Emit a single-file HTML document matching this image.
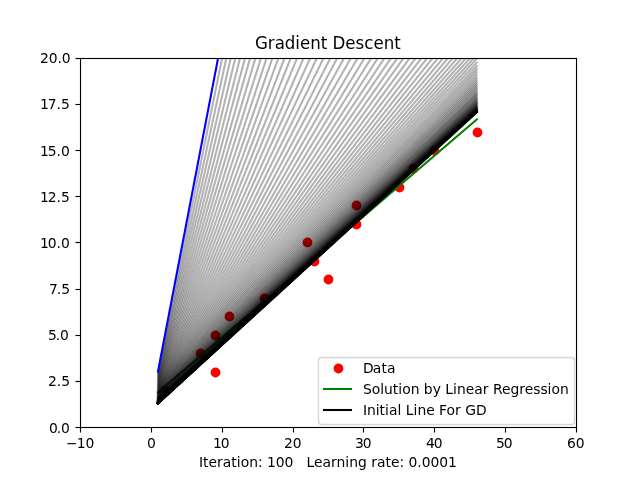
<!DOCTYPE html>
<html><head><meta charset="utf-8"><title>Gradient Descent</title>
<style>html,body{margin:0;padding:0;background:#fff;width:640px;height:480px;overflow:hidden}svg{display:block;will-change:transform}text{white-space:pre}</style>
</head><body>
<svg width="640" height="480" viewBox="0 0 640 480" style="font-family:'DejaVu Sans','Liberation Sans',sans-serif">
<defs><clipPath id="c"><rect x="80" y="58" width="496" height="369"/></clipPath></defs>
<rect width="640" height="480" fill="#fff"/>
<g fill="#000"><rect x="79.945" y="427.5" width="1.111" height="5"/><rect x="150.945" y="427.5" width="1.111" height="5"/><rect x="221.945" y="427.5" width="1.111" height="5"/><rect x="292.945" y="427.5" width="1.111" height="5"/><rect x="362.945" y="427.5" width="1.111" height="5"/><rect x="433.945" y="427.5" width="1.111" height="5"/><rect x="504.945" y="427.5" width="1.111" height="5"/><rect x="575.944" y="427.5" width="1.111" height="5"/><rect x="75.5" y="426.945" width="5" height="1.111"/><rect x="75.5" y="380.945" width="5" height="1.111"/><rect x="75.5" y="334.945" width="5" height="1.111"/><rect x="75.5" y="288.945" width="5" height="1.111"/><rect x="75.5" y="241.945" width="5" height="1.111"/><rect x="75.5" y="195.945" width="5" height="1.111"/><rect x="75.5" y="149.945" width="5" height="1.111"/><rect x="75.5" y="103.945" width="5" height="1.111"/><rect x="75.5" y="57.944" width="5" height="1.111"/></g>
<g><text x="66 76.625 85.5" y="448.047" font-size="13.889px">−10</text><text x="147" y="448.047" font-size="13.889px">0</text><text x="212.875 220.75" y="448.047" font-size="13.889px">10</text><text x="284 292.75" y="448.047" font-size="13.889px">20</text><text x="355 362.75" y="448.047" font-size="13.889px">30</text><text x="426 433.75" y="448.047" font-size="13.889px">40</text><text x="496 503.75" y="448.047" font-size="13.889px">50</text><text x="566.875 575.75" y="448.047" font-size="13.889px">60</text><text x="48.875 56.625 61" y="433.075" font-size="13.889px">0.0</text><text x="48 56.75 61.125" y="386" font-size="13.889px">2.5</text><text x="47.875 55.625 60" y="340.05" font-size="13.889px">5.0</text><text x="49 56.75 61.125" y="294.1" font-size="13.889px">7.5</text><text x="39.875 47.75 56.5 60.875" y="248.025" font-size="13.889px">10.0</text><text x="39.875 47.75 56.5 60.875" y="202.075" font-size="13.889px">12.5</text><text x="39.875 47.75 56.5 60.875" y="156" font-size="13.889px">15.0</text><text x="39.875 47.75 56.5 60.875" y="109.05" font-size="13.889px">17.5</text><text x="39.875 48.625 57.375 61.75" y="63.1" font-size="13.889px">20.0</text></g>
<g fill="#f00" stroke="#f00" stroke-width="1.389" clip-path="url(#c)"><circle cx="165.5" cy="390.5" r="4.2"/><circle cx="200.5" cy="353.5" r="4.2"/><circle cx="215.5" cy="372.5" r="4.2"/><circle cx="215.5" cy="335.5" r="4.2"/><circle cx="229.5" cy="316.5" r="4.2"/><circle cx="264.5" cy="298.5" r="4.2"/><circle cx="307.5" cy="242.5" r="4.2"/><circle cx="314.5" cy="261.5" r="4.2"/><circle cx="328.5" cy="279.5" r="4.2"/><circle cx="356.5" cy="205.5" r="4.2"/><circle cx="356.5" cy="224.5" r="4.2"/><circle cx="399.5" cy="187.5" r="4.2"/><circle cx="413.5" cy="168.5" r="4.2"/><circle cx="434.5" cy="150.5" r="4.2"/><circle cx="477.5" cy="132.5" r="4.2"/></g>
<g fill="none" stroke-width="2.083" stroke-linecap="square" clip-path="url(#c)">
<path d="M157.943 392.207L476.8 119.451" stroke="#008000"/>
<path d="M157.943 403.238L476.8 112.183" stroke="#000"/>
<path d="M157.943 373.911L476.8 -1195.601" stroke="#000" stroke-opacity="0.3"/>
<path d="M157.943 375.915L476.8 -1106.3" stroke="#000" stroke-opacity="0.3"/>
<path d="M157.943 377.783L476.8 -1023.092" stroke="#000" stroke-opacity="0.3"/>
<path d="M157.943 379.523L476.8 -945.56" stroke="#000" stroke-opacity="0.3"/>
<path d="M157.943 381.144L476.8 -873.318" stroke="#000" stroke-opacity="0.3"/>
<path d="M157.943 382.655L476.8 -806.004" stroke="#000" stroke-opacity="0.3"/>
<path d="M157.943 384.062L476.8 -743.282" stroke="#000" stroke-opacity="0.3"/>
<path d="M157.943 385.374L476.8 -684.84" stroke="#000" stroke-opacity="0.3"/>
<path d="M157.943 386.596L476.8 -630.384" stroke="#000" stroke-opacity="0.3"/>
<path d="M157.943 387.734L476.8 -579.644" stroke="#000" stroke-opacity="0.3"/>
<path d="M157.943 388.795L476.8 -532.365" stroke="#000" stroke-opacity="0.3"/>
<path d="M157.943 389.784L476.8 -488.311" stroke="#000" stroke-opacity="0.3"/>
<path d="M157.943 390.705L476.8 -447.263" stroke="#000" stroke-opacity="0.3"/>
<path d="M157.943 391.563L476.8 -409.016" stroke="#000" stroke-opacity="0.3"/>
<path d="M157.943 392.363L476.8 -373.377" stroke="#000" stroke-opacity="0.3"/>
<path d="M157.943 393.108L476.8 -340.17" stroke="#000" stroke-opacity="0.3"/>
<path d="M157.943 393.802L476.8 -309.229" stroke="#000" stroke-opacity="0.3"/>
<path d="M157.943 394.449L476.8 -280.398" stroke="#000" stroke-opacity="0.3"/>
<path d="M157.943 395.052L476.8 -253.534" stroke="#000" stroke-opacity="0.3"/>
<path d="M157.943 395.613L476.8 -228.503" stroke="#000" stroke-opacity="0.3"/>
<path d="M157.943 396.137L476.8 -205.18" stroke="#000" stroke-opacity="0.3"/>
<path d="M157.943 396.624L476.8 -183.447" stroke="#000" stroke-opacity="0.3"/>
<path d="M157.943 397.078L476.8 -163.198" stroke="#000" stroke-opacity="0.3"/>
<path d="M157.943 397.502L476.8 -144.33" stroke="#000" stroke-opacity="0.3"/>
<path d="M157.943 397.896L476.8 -126.749" stroke="#000" stroke-opacity="0.3"/>
<path d="M157.943 398.263L476.8 -110.367" stroke="#000" stroke-opacity="0.3"/>
<path d="M157.943 398.606L476.8 -95.103" stroke="#000" stroke-opacity="0.3"/>
<path d="M157.943 398.925L476.8 -80.88" stroke="#000" stroke-opacity="0.3"/>
<path d="M157.943 399.222L476.8 -67.628" stroke="#000" stroke-opacity="0.3"/>
<path d="M157.943 399.499L476.8 -55.28" stroke="#000" stroke-opacity="0.3"/>
<path d="M157.943 399.757L476.8 -43.774" stroke="#000" stroke-opacity="0.3"/>
<path d="M157.943 399.997L476.8 -33.053" stroke="#000" stroke-opacity="0.3"/>
<path d="M157.943 400.221L476.8 -23.063" stroke="#000" stroke-opacity="0.3"/>
<path d="M157.943 400.43L476.8 -13.755" stroke="#000" stroke-opacity="0.3"/>
<path d="M157.943 400.624L476.8 -5.082" stroke="#000" stroke-opacity="0.3"/>
<path d="M157.943 400.805L476.8 2.999" stroke="#000" stroke-opacity="0.3"/>
<path d="M157.943 400.974L476.8 10.529" stroke="#000" stroke-opacity="0.3"/>
<path d="M157.943 401.131L476.8 17.545" stroke="#000" stroke-opacity="0.3"/>
<path d="M157.943 401.278L476.8 24.083" stroke="#000" stroke-opacity="0.3"/>
<path d="M157.943 401.414L476.8 30.175" stroke="#000" stroke-opacity="0.3"/>
<path d="M157.943 401.541L476.8 35.851" stroke="#000" stroke-opacity="0.3"/>
<path d="M157.943 401.66L476.8 41.14" stroke="#000" stroke-opacity="0.3"/>
<path d="M157.943 401.77L476.8 46.068" stroke="#000" stroke-opacity="0.3"/>
<path d="M157.943 401.873L476.8 50.66" stroke="#000" stroke-opacity="0.3"/>
<path d="M157.943 401.969L476.8 54.938" stroke="#000" stroke-opacity="0.3"/>
<path d="M157.943 402.058L476.8 58.925" stroke="#000" stroke-opacity="0.3"/>
<path d="M157.943 402.141L476.8 62.64" stroke="#000" stroke-opacity="0.3"/>
<path d="M157.943 402.218L476.8 66.101" stroke="#000" stroke-opacity="0.3"/>
<path d="M157.943 402.291L476.8 69.326" stroke="#000" stroke-opacity="0.3"/>
<path d="M157.943 402.358L476.8 72.332" stroke="#000" stroke-opacity="0.3"/>
<path d="M157.943 402.42L476.8 75.132" stroke="#000" stroke-opacity="0.3"/>
<path d="M157.943 402.479L476.8 77.741" stroke="#000" stroke-opacity="0.3"/>
<path d="M157.943 402.533L476.8 80.172" stroke="#000" stroke-opacity="0.3"/>
<path d="M157.943 402.583L476.8 82.437" stroke="#000" stroke-opacity="0.3"/>
<path d="M157.943 402.631L476.8 84.548" stroke="#000" stroke-opacity="0.3"/>
<path d="M157.943 402.674L476.8 86.515" stroke="#000" stroke-opacity="0.3"/>
<path d="M157.943 402.715L476.8 88.347" stroke="#000" stroke-opacity="0.3"/>
<path d="M157.943 402.753L476.8 90.055" stroke="#000" stroke-opacity="0.3"/>
<path d="M157.943 402.789L476.8 91.646" stroke="#000" stroke-opacity="0.3"/>
<path d="M157.943 402.822L476.8 93.129" stroke="#000" stroke-opacity="0.3"/>
<path d="M157.943 402.853L476.8 94.51" stroke="#000" stroke-opacity="0.3"/>
<path d="M157.943 402.881L476.8 95.797" stroke="#000" stroke-opacity="0.3"/>
<path d="M157.943 402.908L476.8 96.997" stroke="#000" stroke-opacity="0.3"/>
<path d="M157.943 402.933L476.8 98.114" stroke="#000" stroke-opacity="0.3"/>
<path d="M157.943 402.956L476.8 99.156" stroke="#000" stroke-opacity="0.3"/>
<path d="M157.943 402.977L476.8 100.126" stroke="#000" stroke-opacity="0.3"/>
<path d="M157.943 402.997L476.8 101.03" stroke="#000" stroke-opacity="0.3"/>
<path d="M157.943 403.016L476.8 101.873" stroke="#000" stroke-opacity="0.3"/>
<path d="M157.943 403.033L476.8 102.658" stroke="#000" stroke-opacity="0.3"/>
<path d="M157.943 403.049L476.8 103.389" stroke="#000" stroke-opacity="0.3"/>
<path d="M157.943 403.064L476.8 104.071" stroke="#000" stroke-opacity="0.3"/>
<path d="M157.943 403.078L476.8 104.706" stroke="#000" stroke-opacity="0.3"/>
<path d="M157.943 403.091L476.8 105.298" stroke="#000" stroke-opacity="0.3"/>
<path d="M157.943 403.103L476.8 105.849" stroke="#000" stroke-opacity="0.3"/>
<path d="M157.943 403.115L476.8 106.363" stroke="#000" stroke-opacity="0.3"/>
<path d="M157.943 403.125L476.8 106.841" stroke="#000" stroke-opacity="0.3"/>
<path d="M157.943 403.135L476.8 107.288" stroke="#000" stroke-opacity="0.3"/>
<path d="M157.943 403.144L476.8 107.703" stroke="#000" stroke-opacity="0.3"/>
<path d="M157.943 403.152L476.8 108.091" stroke="#000" stroke-opacity="0.3"/>
<path d="M157.943 403.16L476.8 108.452" stroke="#000" stroke-opacity="0.3"/>
<path d="M157.943 403.168L476.8 108.788" stroke="#000" stroke-opacity="0.3"/>
<path d="M157.943 403.174L476.8 109.101" stroke="#000" stroke-opacity="0.3"/>
<path d="M157.943 403.181L476.8 109.393" stroke="#000" stroke-opacity="0.3"/>
<path d="M157.943 403.186L476.8 109.665" stroke="#000" stroke-opacity="0.3"/>
<path d="M157.943 403.192L476.8 109.919" stroke="#000" stroke-opacity="0.3"/>
<path d="M157.943 403.197L476.8 110.155" stroke="#000" stroke-opacity="0.3"/>
<path d="M157.943 403.201L476.8 110.375" stroke="#000" stroke-opacity="0.3"/>
<path d="M157.943 403.206L476.8 110.58" stroke="#000" stroke-opacity="0.3"/>
<path d="M157.943 403.21L476.8 110.771" stroke="#000" stroke-opacity="0.3"/>
<path d="M157.943 403.214L476.8 110.95" stroke="#000" stroke-opacity="0.3"/>
<path d="M157.943 403.217L476.8 111.116" stroke="#000" stroke-opacity="0.3"/>
<path d="M157.943 403.22L476.8 111.27" stroke="#000" stroke-opacity="0.3"/>
<path d="M157.943 403.223L476.8 111.414" stroke="#000" stroke-opacity="0.3"/>
<path d="M157.943 403.226L476.8 111.549" stroke="#000" stroke-opacity="0.3"/>
<path d="M157.943 403.228L476.8 111.674" stroke="#000" stroke-opacity="0.3"/>
<path d="M157.943 403.231L476.8 111.79" stroke="#000" stroke-opacity="0.3"/>
<path d="M157.943 403.233L476.8 111.899" stroke="#000" stroke-opacity="0.3"/>
<path d="M157.943 403.235L476.8 112" stroke="#000" stroke-opacity="0.3"/>
<path d="M157.943 403.237L476.8 112.095" stroke="#000" stroke-opacity="0.3"/>
<path d="M157.943 403.238L476.8 112.183" stroke="#000" stroke-opacity="0.3"/>
</g>
<path d="M157.943 371.76L476.8 -1291.44" stroke="#00f" stroke-width="2.083" stroke-linecap="square" fill="none" clip-path="url(#c)"/>
<g fill="#000"><rect x="79.945" y="57.944" width="1.111" height="370.111"/><rect x="575.944" y="57.944" width="1.111" height="370.111"/><rect x="79.945" y="57.944" width="497.111" height="1.111"/><rect x="79.945" y="426.945" width="497.111" height="1.111"/></g>
<text x="255 267.875 274.75 284.875 295.375 300 310.25 320.75 327.25 332.5 345.375 355.625 364.375 373.5 383.75 394.25" y="49.017" font-size="16.667px" text-anchor="start" transform="translate(0 49.017) scale(1 1.08) translate(0 -49.017)">Gradient Descent</text>
<text x="198.875 202.875 208.375 216.875 222.625 231.25 236.75 240.625 249.125 257.875 262.5 266.875 275.75 284.5 293.25 297.625 302 306.375 313.875 322.375 331 336.5 345.25 349.125 357.875 366.75 371.125 376.875 385.5 391 399.5 404.125 408.5 417.25 421.625 430.375 439.125 447.875" y="467.103" font-size="13.889px" style="white-space:pre">Iteration: 100   Learning rate: 0.0001</text>
<rect x="318.5" y="357.5" width="256" height="67" rx="3" fill="#fff" fill-opacity="0.8" stroke="#ccc" stroke-opacity="0.8" stroke-width="1.389"/>
<circle cx="338.5" cy="368.5" r="4.2" fill="#f00" stroke="#f00" stroke-width="1.389"/>
<path d="M324 389H351" stroke="#008000" stroke-width="2.083" stroke-linecap="square"/>
<path d="M324 410H351" stroke="#000" stroke-width="2.083" stroke-linecap="square"/>
<text x="363 372.75 381.375 386.875" y="373.061" font-size="13.889px">Data</text>
<text x="362.875 371.625 380.125 384 392.75 398.25 402.125 410.625 419.375 423.75 432.625 440.875 445.25 453 456.875 465.625 474.125 482.75 488.5 492.875 501.875 510.375 519.25 524.75 533.25 540.375 547.5 551.375 559.875" y="394.006" font-size="13.889px">Solution by Linear Regression</text>
<text x="362.875 366.875 375.625 379.5 385 388.875 397.5 401.375 405.75 413.5 417.375 426.125 434.625 439 446.5 455 460.75 465.125 475.875" y="415.075" font-size="13.889px">Initial Line For GD</text>
</svg>
</body></html>
